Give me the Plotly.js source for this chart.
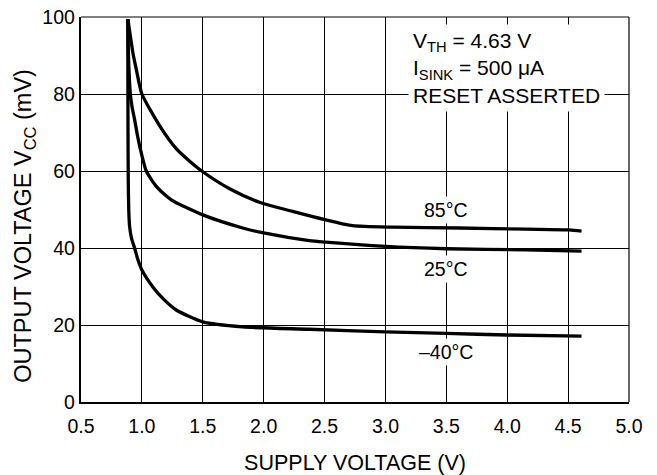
<!DOCTYPE html>
<html>
<head>
<meta charset="utf-8">
<script src="https://cdn.plot.ly/plotly-3.0.1.min.js"></script>
<style>html,body{margin:0;padding:0;background:#fff;}#chart{width:657px;height:475px;}</style>
</head>
<body>
<div id="chart"></div>
<script>
// Supply voltage (V) and output voltage (mV) for each temperature
const xNeg40 = [0.885, 0.885, 0.886, 0.888, 0.892, 0.899, 0.915, 0.94, 0.967, 1.0, 1.09, 1.172, 1.282, 1.5, 1.828, 2.375, 3.0, 3.5, 4.0, 4.61];
const yNeg40 = [99.4, 85.0, 70.0, 58.0, 50.0, 45.6, 42.5, 40.0, 37.0, 34.3, 29.9, 26.9, 23.9, 20.8, 19.5, 18.9, 18.2, 17.8, 17.4, 17.1];

const x25 = [0.885, 0.887, 0.893, 0.905, 0.92, 0.94, 0.965, 0.995, 1.036, 1.118, 1.241, 1.5, 1.828, 2.0, 2.375, 2.51, 3.0, 3.5, 4.15, 4.61];
const y25 = [99.4, 93.0, 87.0, 80.0, 76.5, 73.4, 69.0, 64.7, 60.0, 56.0, 52.5, 48.6, 45.2, 43.9, 41.9, 41.5, 40.4, 39.8, 39.5, 39.2];

const x85 = [0.885, 0.905, 0.926, 0.954, 1.0, 1.145, 1.282, 1.39, 1.5, 1.72, 1.965, 2.238, 2.51, 2.73, 3.06, 3.61, 4.15, 4.51, 4.61];
const y85 = [99.4, 95.1, 90.7, 86.4, 80.0, 71.8, 65.8, 62.6, 59.8, 55.4, 51.9, 49.5, 47.3, 45.8, 45.4, 45.2, 44.9, 44.7, 44.4];

const xTicks = [0.5, 1.0, 1.5, 2.0, 2.5, 3.0, 3.5, 4.0, 4.5, 5.0];
const xTickText = ["0.5", "1.0", "1.5", "2.0", "2.5", "3.0", "3.5", "4.0", "4.5", "5.0"];
const yTicks = [0, 20, 40, 60, 80, 100];

const seriesLabels = ["85°C", "25°C", "–40°C"];
const labelX = [3.5, 3.5, 3.5];
const labelY = [49.9, 34.5, 13.0];

const FONT = "Liberation Sans, Arial, Helvetica, sans-serif";
const TICK = 19.5, TITLE = 21.5, YTITLE = 23.5, NOTE = 21;
const lineStyle = {color: "#000", width: 3.3, shape: "spline", smoothing: 0.6};

const traces = [
  {x: x85, y: y85, mode: "lines", line: lineStyle, name: "85°C"},
  {x: x25, y: y25, mode: "lines", line: lineStyle, name: "25°C"},
  {x: xNeg40, y: yNeg40, mode: "lines", line: lineStyle, name: "-40°C"}
];

const annotations = seriesLabels.map((t, i) => ({
  x: labelX[i], y: labelY[i], xref: "x", yref: "y", text: t, showarrow: false,
  font: {family: FONT, size: TICK, color: "#000"}, bgcolor: "#fff", borderpad: 2
}));

annotations.push({
  xref: "paper", yref: "paper", x: 0.5975, y: 0.982, xanchor: "left", yanchor: "top", align: "left",
  text: "V<sub>TH</sub> = 4.63 V<br>I<sub>SINK</sub> = 500 μA<br>RESET ASSERTED",
  showarrow: false, font: {family: FONT, size: NOTE, color: "#000"}, bgcolor: "#fff", borderpad: 4
});

// y-axis title (drawn as a rotated annotation so it can sit where the reference puts it)
annotations.push({
  xref: "paper", yref: "paper", x: -0.1046, y: 0.457, xanchor: "center", yanchor: "middle",
  textangle: -90, showarrow: false,
  text: "OUTPUT VOLTAGE V<sub>CC</sub> (mV)",
  font: {family: FONT, size: YTITLE, color: "#000"}
});

const layout = {
  width: 657, height: 475,
  margin: {l: 81, r: 28, t: 17, b: 73, pad: 0},
  paper_bgcolor: "#fff", plot_bgcolor: "#fff",
  showlegend: false,
  font: {family: FONT, size: TICK, color: "#000"},
  xaxis: {
    range: [0.5, 5.0], tickvals: xTicks, ticktext: xTickText, ticks: "", ticklabelstandoff: 5,
    showgrid: true, gridcolor: "#000", gridwidth: 1,
    showline: true, linecolor: "#000", linewidth: 2.2, zeroline: false,
    tickfont: {family: FONT, size: TICK, color: "#000"},
    title: {text: "SUPPLY VOLTAGE (V)", font: {family: FONT, size: TITLE, color: "#000"}, standoff: 20}
  },
  yaxis: {
    range: [0, 100], tickvals: yTicks, ticks: "",
    showgrid: true, gridcolor: "#000", gridwidth: 1,
    showline: true, linecolor: "#000", linewidth: 2.2, zeroline: false,
    tickfont: {family: FONT, size: TICK, color: "#000"},
    title: {text: ""}
  },
  shapes: [
    {type: "line", xref: "paper", yref: "paper", x0: 0, x1: 1, y0: 1, y1: 1, line: {color: "#000", width: 1.2}},
    {type: "line", xref: "paper", yref: "paper", x0: 1, x1: 1, y0: 0, y1: 1, line: {color: "#000", width: 1.2}}
  ],
  annotations: annotations
};

Plotly.newPlot("chart", traces, layout, {displayModeBar: false, staticPlot: true});
</script>
</body>
</html>
